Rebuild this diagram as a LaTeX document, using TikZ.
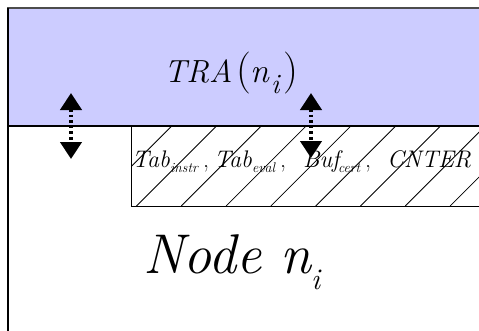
\documentclass[tikz,border=0pt]{standalone}
\usetikzlibrary{arrows.meta}
\definecolor{trablue}{RGB}{204,204,255}
% piece of a formula set at horizontal offset #1, drop #2, size #3
\newcommand{\piece}[4]{\rlap{\hspace*{#1}\raisebox{-#2}{\fontsize{#3}{#3}\selectfont #4}}}

\begin{document}
\begin{tikzpicture}[x=1pt,y=-1pt,
  label/.style={anchor=base west,inner sep=0pt,outer sep=0pt},
  hatchline/.style={line width=0.8pt},
  dasharrow/.style={line width=4.5pt,dash pattern=on 2.6pt off 3pt,
    {Triangle[width=21pt,length=17pt]}-{Triangle[width=21pt,length=17pt]}}]
\useasboundingbox (0,0) rectangle (479,330);
\clip (0,0) rectangle (479,330);

% upper band
\fill[trablue] (8,8) rectangle (485,126);
\draw[line width=1.5pt,black!70] (485,8) -- (7.25,8);
\draw[line width=1.5pt] (8,7.5) -- (8,335);
\draw[line width=1.2pt] (8,126) -- (485,126);

% hatched storage box
\begin{scope}
  \clip (131,126) rectangle (485,206);
  \foreach \k in {-1,...,8}
    \draw[hatchline] ({171.7+44.8*\k},126) -- ({91.7+44.8*\k},206);
\end{scope}
\draw[line width=1pt] (485,126) -- (131,126) -- (131,206) -- (485,206);

% labels
\node[label] (tra) at (164,82) {%
  \piece{0pt}{0pt}{32}{\itshape TRA}%
  \piece{72pt}{1pt}{42}{(}%
  \piece{86pt}{0pt}{34}{\itshape n}%
  \piece{107pt}{11pt}{28}{\itshape i}%
  \piece{119pt}{1pt}{42}{)}%
  \hspace*{134pt}};
\node[label] (tabs) at (131,167) {%
  \piece{1pt}{0pt}{24}{\itshape Tab}%
  \piece{39pt}{5pt}{14}{\itshape instr}%
  \piece{72pt}{0pt}{24}{,}%
  \piece{83pt}{0pt}{24}{\itshape Tab}%
  \piece{121pt}{5pt}{14}{\itshape eval}%
  \piece{149pt}{0pt}{24}{,}%
  \piece{172pt}{0pt}{24}{\itshape Buf}%
  \piece{207pt}{5pt}{14}{\itshape cert}%
  \piece{234pt}{0pt}{24}{,}%
  \piece{256pt}{0pt}{24}{\itshape CNTER}%
  \hspace*{343pt}};
\node[label] (node) at (143,273) {%
  \piece{0pt}{0pt}{56}{\itshape Node}%
  \piece{138pt}{0pt}{56}{\itshape n}%
  \piece{168pt}{16pt}{30}{\itshape i}%
  \hspace*{178pt}};

% exchange arrows
\coordinate (la1) at (71,93);
\coordinate (la2) at (71,159);
\coordinate (ra1) at (311,93);
\coordinate (ra2) at (311,158);
\draw[dasharrow] (la1) -- (la2);
\draw[dasharrow] (ra1) -- (ra2);
\end{tikzpicture}
\end{document}
